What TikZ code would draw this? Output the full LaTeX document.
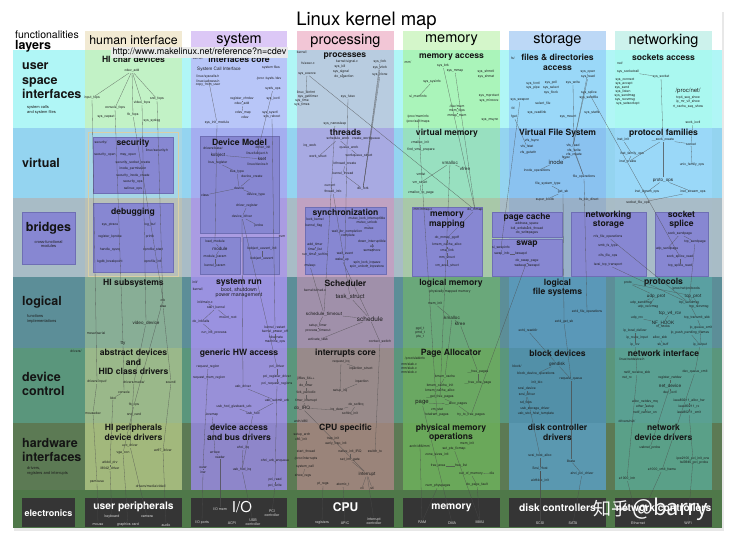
\documentclass[tikz,border=0pt]{standalone}
\usepackage{fontspec}
\setmainfont{TeX Gyre Heros}
\newfontfamily\cjk{Noto Sans CJK SC}
\definecolor{rowU}{HTML}{B0F6F6}
\definecolor{rowV}{HTML}{94D4F0}
\definecolor{rowB}{HTML}{A8BCC6}
\definecolor{rowL}{HTML}{5C8E98}
\definecolor{rowD}{HTML}{5A967C}
\definecolor{rowH}{HTML}{5C7A54}
\definecolor{rowE}{HTML}{4F7849}
\definecolor{hiU}{HTML}{C2F2C6}\definecolor{hiV}{HTML}{A6D6E6}\definecolor{hiB}{HTML}{B8C0B8}
\definecolor{hiL}{HTML}{88AE96}\definecolor{hiD}{HTML}{9AB88A}\definecolor{hiH}{HTML}{A2B87C}
\definecolor{syU}{HTML}{B8C6F8}\definecolor{syV}{HTML}{A4AEF0}\definecolor{syB}{HTML}{AA9CE2}
\definecolor{syL}{HTML}{9A92E0}\definecolor{syD}{HTML}{9890D8}\definecolor{syH}{HTML}{8E86CA}
\definecolor{prU}{HTML}{B8CCE0}\definecolor{prV}{HTML}{A8AAE2}\definecolor{prB}{HTML}{C0A2C2}
\definecolor{prL}{HTML}{A090AA}\definecolor{prD}{HTML}{988A8A}\definecolor{prH}{HTML}{9A847A}
\definecolor{meU}{HTML}{AAF4BA}\definecolor{meV}{HTML}{98E0C0}\definecolor{meB}{HTML}{A8C8A8}
\definecolor{meL}{HTML}{6AA87A}\definecolor{meD}{HTML}{6AA862}\definecolor{meH}{HTML}{6AA85A}
\definecolor{stU}{HTML}{9AD8F8}\definecolor{stV}{HTML}{8AC2F0}\definecolor{stB}{HTML}{98B0C8}
\definecolor{stL}{HTML}{5A98B8}\definecolor{stD}{HTML}{5290A8}\definecolor{stH}{HTML}{5A98B0}
\definecolor{neU}{HTML}{AAF8F0}\definecolor{neV}{HTML}{9AD8F8}\definecolor{neB}{HTML}{A8BCC8}
\definecolor{neL}{HTML}{5AA0A2}\definecolor{neD}{HTML}{5AA092}\definecolor{neH}{HTML}{5AA088}
\definecolor{hHI}{HTML}{F2EAD3}\definecolor{hSY}{HTML}{DCC8F6}\definecolor{hPR}{HTML}{F2C6D6}
\definecolor{hME}{HTML}{D4F6CA}\definecolor{hST}{HTML}{BCD8F6}\definecolor{hNE}{HTML}{CCF2EC}
\definecolor{iboxc}{HTML}{8787D2}\definecolor{iboxd}{HTML}{6E6EB4}
\definecolor{hiframe}{HTML}{D9CFA6}\definecolor{ebc}{HTML}{353535}
\definecolor{txt}{HTML}{1E1E1E}
\tikzset{
 t/.style={font=\fontsize{3.4}{3.8}\selectfont, text=txt, inner sep=0.3pt, align=center},
 tb/.style={font=\fontsize{4.6}{5}\selectfont, text=txt, inner sep=0.3pt, align=center},
 tc/.style={font=\fontsize{6}{6.5}\selectfont, text=txt, inner sep=0.3pt, align=center},
 sec/.style={font=\fontsize{8.6}{9.4}\selectfont\bfseries, text=black!92, inner sep=0, align=center},
 hd/.style={font=\fontsize{14.5}{15}\selectfont, inner sep=0},
 rl/.style={font=\fontsize{12.5}{14.5}\selectfont\bfseries, anchor=west, align=left, inner sep=0, text=black!92},
 rs/.style={font=\fontsize{4}{4.6}\selectfont, anchor=west, align=left, inner sep=0, text=txt},
 ln/.style={draw=black!70, line width=0.3pt, opacity=0.75},
 ibox/.style={fill=iboxc, draw=iboxd, line width=0.4pt},
 eh/.style={font=\fontsize{10.3}{11}\selectfont\bfseries, text=white, inner sep=0},
 et/.style={font=\fontsize{3.6}{4}\selectfont, text=white!85!black, inner sep=0.3pt, align=center},
}
\newcommand\mylbl[5][t]{\node[#1] (#2) at (#3,#4) {#5};}
\begin{document}
\begin{tikzpicture}[x=1pt,y=-1pt]
\useasboundingbox (0,0) rectangle (733,539);
\fill[white] (0,0) rectangle (733,539);
\fill[black!9] (14,12) rectangle (724,531);
\fill[white] (12,10) rectangle (722,528);
% rows
\fill[rowU] (13,50) rectangle (722,128);
\fill[rowV] (13,128) rectangle (722,198);
\fill[rowB] (13,198) rectangle (722,277);
\fill[rowL] (13,277) rectangle (722,348);
\fill[rowD] (13,348) rectangle (722,423);
\fill[rowH] (13,423) rectangle (722,490);
\fill[rowE] (13,490) rectangle (722,528);
% header boxes
\fill[hHI] (85,31) rectangle (182,50);
\fill[hSY] (191,31) rectangle (287,50);
\fill[hPR] (297,31) rectangle (394,50);
\fill[hME] (403,31) rectangle (500,50);
\fill[hST] (509,31) rectangle (606,50);
\fill[hNE] (615,31) rectangle (712,50);
% column cells
\fill[hiU] (85,50) rectangle (182,128);\fill[hiV] (85,128) rectangle (182,198);\fill[hiB] (85,198) rectangle (182,277);
\fill[hiL] (85,277) rectangle (182,348);\fill[hiD] (85,348) rectangle (182,423);\fill[hiH] (85,423) rectangle (182,490);
\fill[syU] (191,50) rectangle (287,128);\fill[syV] (191,128) rectangle (287,198);\fill[syB] (191,198) rectangle (287,277);
\fill[syL] (191,277) rectangle (287,348);\fill[syD] (191,348) rectangle (287,423);\fill[syH] (191,423) rectangle (287,490);
\fill[prU] (297,50) rectangle (394,128);\fill[prV] (297,128) rectangle (394,198);\fill[prB] (297,198) rectangle (394,277);
\fill[prL] (297,277) rectangle (394,348);\fill[prD] (297,348) rectangle (394,423);\fill[prH] (297,423) rectangle (394,490);
\fill[meU] (403,50) rectangle (500,128);\fill[meV] (403,128) rectangle (500,198);\fill[meB] (403,198) rectangle (500,277);
\fill[meL] (403,277) rectangle (500,348);\fill[meD] (403,348) rectangle (500,423);\fill[meH] (403,423) rectangle (500,490);
\fill[stU] (509,50) rectangle (606,128);\fill[stV] (509,128) rectangle (606,198);\fill[stB] (509,198) rectangle (606,277);
\fill[stL] (509,277) rectangle (606,348);\fill[stD] (509,348) rectangle (606,423);\fill[stH] (509,423) rectangle (606,490);
\fill[neU] (615,50) rectangle (712,128);\fill[neV] (615,128) rectangle (712,198);\fill[neB] (615,198) rectangle (712,277);
\fill[neL] (615,277) rectangle (712,348);\fill[neD] (615,348) rectangle (712,423);\fill[neH] (615,423) rectangle (712,490);
% HI frame and inner boxes
\draw[hiframe, line width=0.9pt] (88,132) rectangle (178,276);
\draw[ibox] (93,137) rectangle (173,193);
\draw[ibox] (93,203) rectangle (173,272);
\draw[ibox] (22,212) rectangle (75,264);
\draw[ibox] (200,136) rectangle (279,233);
\draw[ibox] (200,237) rectangle (240,274);
\draw[ibox] (243,237) rectangle (279,274);
\draw[ibox] (305,207) rectangle (386,274);
\draw[ibox] (412,207) rectangle (482,276);
\draw[ibox] (492,212) rectangle (562,237);
\draw[ibox] (492,239) rectangle (562,276);
\draw[ibox] (571,212) rectangle (646,276);
\draw[ibox] (655,212) rectangle (708,276);
% electronics boxes
\fill[ebc] (22,498) rectangle (75,527);
\fill[ebc] (85,498) rectangle (182,527);
\fill[ebc] (191,498) rectangle (287,527);
\fill[ebc] (297,498) rectangle (394,527);
\fill[ebc] (403,498) rectangle (500,527);
\fill[ebc] (509,498) rectangle (606,527);
\fill[ebc] (615,498) rectangle (712,527);

% title and headers
\node[font=\fontsize{18.5}{18.5}\selectfont, inner sep=0] (title) at (366.5,20.5) {Linux kernel map};
\node[font=\fontsize{10.5}{11}\selectfont, anchor=west, inner sep=0] (func) at (15,35) {functionalities};
\node[font=\fontsize{12.5}{13}\selectfont\bfseries, anchor=west, inner sep=0] (layers) at (15,46.5) {layers};
\node[hd, font=\fontsize{12.3}{13}\selectfont] (hHIt) at (133.5,40.5) {human interface};
\node[hd] (hSYt) at (239,40.5) {system};
\node[hd] (hPRt) at (345.5,40.5) {processing};
\node[hd] (hMEt) at (451.5,40.5) {memory};
\node[hd] (hSTt) at (557.5,40.5) {storage};
\node[hd] (hNEt) at (663.5,40.5) {networking};

% row labels
\node[rl] (rU) at (22,81) {user\\space\\interfaces};
\node[rs] (rUs) at (27,110) {system calls\\and system files};
\node[rl] (rV) at (22,163) {virtual};
\node[rl, anchor=center] (rB) at (48.5,228) {bridges};
\node[rs, anchor=center, align=center] (rBs) at (48.5,244) {cross-functional\\modules};
\node[rl] (rL) at (22,302) {logical};
\node[rs] (rLs) at (27,319) {functions\\implementations};
\node[rl] (rD) at (22,384) {device\\control};
\node[rl] (rH) at (22,450) {hardware\\interfaces};
\node[rs] (rHs) at (27,471) {drivers,\\registers and interrupts};
\node[eh, font=\fontsize{9}{10}\selectfont\bfseries] (rE) at (48.5,513) {electronics};

% section titles
\node[sec] (sHIc) at (133.5,59) {HI char devices};
\node[sec] (sSYi) at (239,59) {interfaces core};
\node[sec] (sPRp) at (345,56.5) {processes};
\node[sec] (sMEa) at (451.5,57.5) {memory access};
\node[sec] (sSTf) at (557.5,62.5) {files \& directories\\access};
\node[sec] (sNEs) at (663.5,57.5) {sockets access};
\node[sec] (sSec) at (133,143) {security};
\node[sec] (sDM) at (239.5,142.5) {Device Model};
\node[sec] (sThr) at (345.5,132.5) {threads};
\node[sec] (sVM) at (447,133) {virtual memory};
\node[sec] (sVFS) at (557.5,133) {Virtual File System};
\node[sec] (sPF) at (663.5,133) {protocol families};
\node[sec] (sDbg) at (133,212) {debugging};
\node[sec] (sSyn) at (345.5,213) {synchronization};
\node[sec] (sMM) at (447,220) {memory\\mapping};
\node[sec] (sPC) at (527,217) {page cache};
\node[sec] (sSw) at (527,244) {swap};
\node[sec] (sNS) at (608.5,220) {networking\\storage};
\node[sec] (sSS) at (681.5,220) {socket\\splice};
\node[sec] (sHIs) at (133.5,283) {HI subsystems};
\node[sec] (sSR) at (239,283) {system run};
\node[tb, font=\fontsize{5.3}{5.6}\selectfont] (sSRs) at (239,292.5) {boot, shutdown\\power management};
\node[sec] (sSch) at (345.5,283) {Scheduler};
\node[sec] (sLM) at (451,283) {logical memory};
\node[sec] (sLFS) at (557.5,287.5) {logical\\file systems};
\node[sec] (sProt) at (663.5,282) {protocols};
\node[sec] (sAD) at (133.5,362) {abstract devices\\and\\HID class drivers};
\node[sec] (sGHW) at (239,353) {generic HW access};
\node[sec] (sIC) at (345.5,353) {interrupts core};
\node[sec] (sPA) at (451,353) {Page Allocator};
\node[sec] (sBD) at (557.5,353) {block devices};
\node[sec] (sNI) at (663.5,353) {network interface};
\node[sec] (sHIp) at (133.5,432.5) {HI peripherals\\device drivers};
\node[sec] (sDA) at (239,432.5) {device access\\and bus drivers};
\node[sec] (sCPU) at (345.5,428.5) {CPU specific};
\node[sec] (sPMO) at (451,432.5) {physical memory\\operations};
\node[sec] (sDCD) at (557.5,432.5) {disk controller\\drivers};
\node[sec] (sNDD) at (663.5,432.5) {network\\device drivers};

% electronics texts
\node[eh] (eUP) at (133.5,507) {user peripherals};
\node[eh, font=\fontsize{15}{15}\selectfont] (eIO) at (242,507) {I/O};
\node[eh, font=\fontsize{12}{12}\selectfont\bfseries] (eCPU) at (345.5,507) {CPU};
\node[eh] (eMem) at (451.5,508) {memory};
\node[eh] (eDisk) at (557.5,508) {disk controllers};
\node[eh] (eNet) at (663.5,508) {network controllers};
\node[et] (keyboard) at (112,517) {keyboard};
\node[et] (camera) at (147,517) {camera};
\node[et] (mouse) at (98,525) {mouse};
\node[et] (graphics) at (128,525) {graphics card};
\node[et] (audio) at (166,525) {audio};
\node[et] (iomem) at (220,509) {I/O mem};
\node[et] (pcic) at (272,513) {PCI\\controller};
\node[et] (ioports) at (202,523) {I/O ports};
\node[et] (acpi) at (232,523) {ACPI};
\node[et] (usbc) at (253,522) {USB\\controller};
\node[et] (registers) at (322,523) {registers};
\node[et] (apic) at (345,523) {APIC};
\node[et] (intc) at (374,521) {interrupt\\controller};
\node[et] (ram) at (422,522) {RAM};
\node[et] (dma) at (452,523) {DMA};
\node[et] (mmu) at (480,522) {MMU};
\node[et] (scsi) at (540,523) {SCSI};
\node[et] (sata) at (573,523) {SATA};
\node[et] (ether) at (638,523) {Ethernet};
\node[et] (wifi) at (688,523) {WiFi};

% ---------- user space row ----------
\mylbl{cdevadd}{132}{71}{cdev\_add}
\mylbl{inputfops}{92}{98}{input\_fops}
\mylbl{consolefops}{115}{108}{console\_fops}
\mylbl{videofops}{142}{103}{video\_fops}
\mylbl{sndfops}{157}{99}{snd\_fops}
\mylbl{syscapset}{106}{117}{sys\_capset}
\mylbl{fbfops}{133}{115}{fb\_fops}
\mylbl{syssyslog}{152}{121}{sys\_syslog}
\mylbl{kernelS}{198}{58}{kernel/}
\mylbl[tb]{sci}{219}{69}{System Call Interface}
\mylbl{sysfiles}{271}{68}{system files}
\mylbl{syscallsh}{208}{77}{linux/syscalls.h}
\mylbl{uaccessh}{208}{81}{linux/uaccess.h}
\mylbl{procsys}{269}{79}{/proc /sysfs /dev}
\mylbl{copyfromuser}{208}{85}{copy\_from\_user}
\mylbl{sysfsops}{273}{89}{sysfs\_ops}
\mylbl{regchrdev}{242}{99}{register\_chrdev}
\mylbl{sysioctl}{273}{99}{sys\_ioctl}
\mylbl{cdevaddB}{242}{104}{cdev\_add}
\mylbl{cdevmap}{243}{113}{cdev\_map}
\mylbl{sysctl}{270}{113}{sys\_sysctl}
\mylbl{cdev}{245}{117}{cdev}
\mylbl{sysreboot}{272}{117}{sys\_reboot}
\mylbl{sysinitmodule}{217}{123}{sys\_init\_module}
\mylbl{kernelP}{302}{52}{kernel/}
\mylbl{fsexec}{308}{63}{fs/exec.c}
\mylbl{signalc}{347}{62}{kernel/signal.c}
\mylbl{sysfork}{380}{62}{sys\_fork}
\mylbl{syskill}{340}{67}{sys\_kill}
\mylbl{sysvfork}{380}{68}{sys\_vfork}
\mylbl{sysexecve}{307}{74}{sys\_execve}
\mylbl{syssignal}{341}{72}{sys\_signal}
\mylbl{sysclone}{380}{75}{sys\_clone}
\mylbl{dosigaction}{344}{77}{do\_sigaction}
\mylbl{binfmt}{306}{93}{linux\_binfmt}
\mylbl{getitimer}{308}{97}{sys\_getitimer}
\mylbl{systime}{302}{101}{sys\_time}
\mylbl{systimes}{302}{105}{sys\_times}
\mylbl{sysfutex}{348}{97}{sys\_futex}
\mylbl{nanosleep}{335}{124}{sys\_nanosleep}
\mylbl{mmdir}{408}{62}{mm/}
\mylbl{sysbrk}{443}{66}{sys\_brk}
\mylbl{sysmmap}{455}{71}{sys\_mmap}
\mylbl{shmctl}{486}{72}{sys\_shmctl}
\mylbl{shmat}{486}{77}{sys\_shmat}
\mylbl{syssysinfo}{432}{82}{sys\_sysinfo}
\mylbl{simeminfo}{418}{97}{si\_meminfo}
\mylbl{mprotect}{489}{96}{sys\_mprotect}
\mylbl{mincore}{489}{101}{sys\_mincore}
\mylbl{devmem}{457}{106}{/dev/mem}
\mylbl{memfops}{457}{111}{mem\_fops}
\mylbl{mmapmem}{457}{116}{mmap\_mem}
\mylbl{msync}{490}{120}{sys\_msync}
\mylbl{procmeminfo}{418}{117}{/proc/meminfo}
\mylbl{procmaps}{418}{122}{/proc/self/maps}
\mylbl{fsdir}{513}{58}{fs/}
\mylbl{sysopen}{588}{72}{sys\_open}
\mylbl{sysread}{588}{77}{sys\_read}
\mylbl{sysfcntl}{533}{84}{sys\_fcntl}
\mylbl{syspoll}{551}{83}{sys\_poll}
\mylbl{syswrite}{573}{83}{sys\_write}
\mylbl{syspipe}{533}{88}{sys\_pipe}
\mylbl{sysselect}{551}{88}{sys\_select}
\mylbl{sysflock}{551}{93}{sys\_flock}
\mylbl{syssplice}{589}{93}{sys\_splice}
\mylbl{syssendfile}{589}{98}{sys\_sendfile}
\mylbl{sysswapon}{520}{100}{sys\_swapon}
\mylbl{selectfile}{543}{104}{select\_file}
\mylbl{fd}{513}{108}{fd}
\mylbl{fget}{514}{117}{fget}
\mylbl{sysreadlink}{537}{113}{sys\_readlink}
\mylbl{sysmount}{568}{117}{sys\_mount}
\mylbl{sysstatfs}{592}{113}{sys\_statfs}
\mylbl{netdir}{620}{63}{net/}
\mylbl{socketcall}{628}{72}{sys\_socketcall}
\mylbl{syssocket}{661}{77}{sys\_socket}
\mylbl{sconnect}{625}{80}{sys\_connect}
\mylbl{saccept}{624}{84}{sys\_accept}
\mylbl{ssend}{622}{88}{sys\_send}
\mylbl{slisten}{623}{92}{sys\_listen}
\mylbl{ssendmsg}{625}{96}{sys\_sendmsg}
\mylbl{srecvmsg}{625}{100}{sys\_recvmsg}
\mylbl{ssetsock}{628}{104}{sys\_setsockopt}
\mylbl[tc]{procnet}{688}{91}{/proc/net/}
\mylbl{tcp4seq}{688}{98}{tcp4\_seq\_show}
\mylbl{ipmr}{688}{102}{ip\_mr\_vif\_show}
\mylbl{rtcache}{688}{107}{rt\_cache\_seq\_show}
\mylbl{sockioctl}{693}{123}{sock\_ioctl}

% ---------- virtual row ----------
\mylbl{secdir}{101}{143}{security/}
\mylbl{securityh}{157}{151}{linux/security.h}
\mylbl{secopen}{105}{155}{security\_open}
\mylbl{mayopen}{128}{155}{may\_open}
\mylbl{secsock}{133}{163}{security\_socket\_create}
\mylbl{inodeperm}{133}{169}{inode\_permission}
\mylbl{secinode}{133}{176}{security\_inode\_create}
\mylbl{secops}{133}{182}{security\_ops}
\mylbl{selinux}{133}{189}{selinux\_ops}
\mylbl{drvbase}{213}{148}{drivers/base/}
\mylbl{drvinit}{263}{148}{driver\_init}
\mylbl[tb]{kobject}{218}{155}{kobject}
\mylbl{kobjecth}{257}{154}{linux/kobject.h}
\mylbl{busregister}{218}{163}{bus\_register}
\mylbl[tb]{kset}{262}{159}{kset}
\mylbl{deviceh}{258}{164}{linux/device.h}
\mylbl{bustype}{237}{172}{bus\_type}
\mylbl{devcreate}{252}{177}{device\_create}
\mylbl{device}{239}{188}{device}
\mylbl{class}{205}{195}{class}
\mylbl{devtype}{256}{195}{device\_type}
\mylbl{drvregister}{247}{206}{driver\_register}
\mylbl{devdriver}{242}{217}{device\_driver}
\mylbl{probe}{259}{226}{probe}
\mylbl{kvm}{282}{236}{kvm}
\mylbl{loadmodule}{215}{242}{load\_module}
\mylbl[tb]{module}{220}{249}{module}
\mylbl{moduleparam}{215}{257}{module\_param}
\mylbl{kernelparam}{215}{266}{kernel\_param}
\mylbl{ueventinit}{262}{249}{kobject\_uevent\_init}
\mylbl{uevent}{262}{259}{kobject\_uevent}
\mylbl{schedwork}{338}{139}{schedule\_work}
\mylbl{createwq}{366}{139}{create\_workqueue}
\mylbl{irqaff}{310}{146}{irq\_work}
\mylbl{queuework}{349}{148}{queue\_work}
\mylbl{workstruct}{318}{157}{work\_struct}
\mylbl{wqstruct}{359}{156}{workqueue\_struct}
\mylbl{kthreadcreate}{345}{164}{kthread\_create}
\mylbl{kernelthread}{343}{174}{kernel\_thread}
\mylbl{current}{330}{185}{current}
\mylbl{threadinfo}{333}{192}{thread\_info}
\mylbl{dofork}{363}{189}{do\_fork}
\mylbl{vmallocinit}{420}{143}{vmalloc\_init}
\mylbl{findvma}{421}{150}{find\_vma\_prepare}
\mylbl[tb]{vmalloc}{450}{163}{vmalloc}
\mylbl[tb]{vfree}{465}{169}{vfree}
\mylbl{vmlist}{421}{174}{vmlist}
\mylbl{vmstruct}{420}{183}{vm\_struct}
\mylbl{vmtopage}{421}{193}{vmalloc\_to\_page}
\mylbl{vfsfsync}{532}{141}{vfs\_fsync}
\mylbl{vfsfstat}{527}{147}{vfs\_fstat}
\mylbl{vfsgetattr}{528}{153}{vfs\_getattr}
\mylbl{vfsread}{573}{146}{vfs\_read}
\mylbl{vfswrite}{574}{151}{vfs\_write}
\mylbl{vfscreate}{574}{155}{vfs\_create}
\mylbl{fsync}{566}{158}{fsync}
\mylbl[tc]{inode}{556}{162}{inode}
\mylbl{inodeops}{537}{171}{inode\_operations}
\mylbl{fileops}{584}{177}{file\_operations}
\mylbl{fstype}{548}{184}{file\_system\_type}
\mylbl{getsb}{563}{192}{get\_sb}
\mylbl{superblock}{545}{200}{super\_block}
\mylbl{fsbsdirect}{589}{200}{fs\_bio\_direct}
\mylbl{inetinit}{623}{140}{inet\_init}
\mylbl{sockcreate}{663}{140}{\_\_sock\_create}
\mylbl{socket}{691}{144}{socket}
\mylbl{inetfam}{632}{154}{inet\_family\_ops}
\mylbl{inetcreate}{628}{162}{inet\_create}
\mylbl{unixfam}{692}{165}{unix\_family\_ops}
\mylbl[tb]{protoops}{663}{180}{proto\_ops}
\mylbl{inetdgram}{647}{192}{inet\_dgram\_ops}
\mylbl{inetstream}{693}{192}{inet\_stream\_ops}

% ---------- bridges row ----------
\mylbl{sysptrace}{110}{225}{sys\_ptrace}
\mylbl{logbuf}{150}{225}{log\_buf}
\mylbl{regkprobe}{110}{237}{register\_kprobe}
\mylbl{printk}{150}{237}{printk}
\mylbl{sysrq}{110}{250}{handle\_sysrq}
\mylbl{opstart}{153}{250}{oprofile\_start}
\mylbl{kgdb}{110}{262}{kgdb\_breakpoint}
\mylbl{opinit}{153}{262}{oprofile\_init}
\mylbl{lockkernel}{315}{220}{lock\_kernel}
\mylbl{kernelflag}{314}{226}{kernel\_flag}
\mylbl{mutexlock}{367}{219}{mutex\_lock\_interruptible}
\mylbl{mutexunlock}{367}{223}{mutex\_unlock}
\mylbl{mutex}{369}{228}{mutex}
\mylbl{waitcompl}{347}{232}{wait\_for\_completion}
\mylbl{complete}{348}{236}{complete}
\mylbl{addtimer}{315}{245}{add\_timer}
\mylbl{timerlist}{315}{250}{timer\_list}
\mylbl{runtimer}{315}{255}{run\_timer\_softirq}
\mylbl{downint}{372}{242}{down\_interruptible}
\mylbl{up}{372}{247}{up}
\mylbl{semaphore}{372}{251}{semaphore}
\mylbl{waitevent}{345}{254}{wait\_event}
\mylbl{wakeup}{342}{260}{wake\_up}
\mylbl{msleep}{310}{266}{msleep}
\mylbl{spinlock}{367}{263}{spin\_lock\_irqsave}
\mylbl{spinunlock}{367}{267}{spin\_unlock\_irqrestore}
\mylbl{mmapc}{423}{210}{mm/mmap.c}
\mylbl{domap}{475}{210}{do\_mmap}
\mylbl{mmappgoff}{447}{238}{do\_mmap\_pgoff}
\mylbl{kmemalloc}{447}{245}{kmem\_cache\_alloc}
\mylbl{vmalink}{447}{251}{vma\_link}
\mylbl{mmstruct}{447}{258}{mm\_struct}
\mylbl{vmarea}{447}{266}{vm\_area\_struct}
\mylbl{addrspace}{527}{224}{address\_space}
\mylbl{bdiwb}{527}{229}{bdi\_writeback\_thread}
\mylbl{dowritepages}{527}{233}{do\_writepages}
\mylbl{siswapinfo}{501}{248}{si\_swapinfo}
\mylbl{swapinfo}{502}{254}{swap\_info}
\mylbl{kswapd}{521}{254}{kswapd}
\mylbl{doswappage}{527}{261}{do\_swap\_page}
\mylbl{wakekswapd}{527}{266}{wakeup\_kswapd}
\mylbl{nfsfile}{608}{237}{nfs\_file\_operations}
\mylbl{smbfs}{608}{246}{smb\_fs\_type}
\mylbl{cifsfile}{608}{256}{cifs\_file\_ops}
\mylbl{iscsi}{608}{265}{iscsi\_tcp\_transport}
\mylbl{socketfileops}{638}{203}{socket\_file\_ops}
\mylbl{socksendpage}{680}{234}{sock\_sendpage}
\mylbl{tcpsendpage}{695}{242}{tcp\_sendpage}
\mylbl{udpsendpage}{667}{249}{udp\_sendpage}
\mylbl{socksplice}{680}{257}{sock\_splice\_read}
\mylbl{tcpsplice}{680}{266}{tcp\_splice\_read}

% ---------- logical row ----------
\mylbl{cfb}{163}{300}{cfb}
\mylbl{alsa}{163}{306}{alsa}
\mylbl[tb]{videodevice}{146}{323}{video\_device}
\mylbl{moxa}{96}{333}{mxser/serial}
\mylbl[tb]{tty}{123}{343}{tty}
\mylbl{initdir}{195}{282}{init/}
\mylbl{kernelR}{198}{289}{kernel/}
\mylbl{mainc}{205}{302}{init/main.c}
\mylbl{startkernel}{216}{308}{start\_kernel}
\mylbl{mountroot}{228}{318}{mount\_root}
\mylbl{doinitcalls}{201}{322}{do\_initcalls}
\mylbl{runinit}{214}{333}{run\_init\_process}
\mylbl{krestart}{275}{328}{kernel\_restart}
\mylbl{kpoweroff}{275}{332}{kernel\_power\_off}
\mylbl{hibernate}{276}{337}{hibernate}
\mylbl{machineops}{275}{342}{machine\_ops}
\mylbl{schedc}{315}{290}{kernel/sched.c}
\mylbl[tc]{taskstruct}{350}{297}{task\_struct}
\mylbl[tb]{schedtimeout}{324}{314}{schedule\_timeout}
\mylbl[font=\fontsize{6.5}{7}\selectfont, text=txt, inner sep=0.3pt]{schedule}{370}{319}{schedule}
\mylbl{setuptimer}{318}{326}{setup\_timer}
\mylbl{proctimeout}{318}{331}{process\_timeout}
\mylbl{activatetask}{318}{340}{activate\_task}
\mylbl{ctxswitch}{380}{342}{context\_switch}
\mylbl{physmapped}{450}{292}{physically mapped memory}
\mylbl{meminit}{435}{304}{mem\_init}
\mylbl[tb]{kmalloc}{452}{318}{kmalloc}
\mylbl[tb]{kfree}{460}{324}{kfree}
\mylbl{pgdt}{420}{329}{pgd\_t}
\mylbl{pmdt}{420}{333}{pmd\_t}
\mylbl{ptet}{420}{337}{pte\_t}
\mylbl{ext4fops}{587}{312}{ext4\_file\_operations}
\mylbl{ext4getsb}{564}{322}{ext4\_get\_sb}
\mylbl{ext4readdir}{528}{331}{ext4\_readdir}
\mylbl{proto}{628}{283}{proto}
\mylbl{procprot}{686}{289}{/proc/net/protocols}
\mylbl[tb]{udpprot}{656}{296}{udp\_prot}
\mylbl[tb]{tcpprot}{693}{296}{tcp\_prot}
\mylbl{udpsendmsg}{641}{303}{udp\_sendmsg}
\mylbl{udprecvmsg}{648}{307}{udp\_recvmsg}
\mylbl{tcpsendmsg}{689}{303}{tcp\_sendmsg}
\mylbl{tcprecvmsg}{699}{307}{tcp\_recvmsg}
\mylbl[tb]{tcpv4rcv}{670}{313}{tcp\_v4\_rcv}
\mylbl{udprcv}{637}{318}{udp\_rcv}
\mylbl{tcptransmit}{697}{318}{tcp\_transmit\_skb}
\mylbl[tb]{nfhook}{663}{323}{NF\_HOOK}
\mylbl{nfhooks}{663}{327}{nf\_hooks}
\mylbl{ipqueue}{701}{328}{ip\_queue\_xmit}
\mylbl{iplocal}{635}{331}{ip\_local\_deliver}
\mylbl{ippush}{690}{333}{ip\_push\_pending\_frames}
\mylbl{iproute}{637}{338}{ip\_route\_input}
\mylbl{allocskb}{660}{338}{alloc\_skb}
\mylbl{iprcv}{635}{345}{ip\_rcv}
\mylbl{skbuff}{663}{345}{sk\_buff}
\mylbl{ipoutput}{700}{345}{ip\_output}

% ---------- device control row ----------
\mylbl{drivers}{76}{351}{drivers/}
\mylbl{drvinput}{97}{382}{drivers/input/}
\mylbl{drvmedia}{134}{382}{drivers/media/}
\mylbl{sound}{171}{382}{sound/}
\mylbl{consoleD}{124}{392}{console}
\mylbl{kbd}{113}{398}{kbd}
\mylbl{fbops}{134}{405}{fb\_ops}
\mylbl{mousedev}{93}{413}{mousedev}
\mylbl{smichar}{134}{415}{snd\_card}
\mylbl{reqregion}{208}{367}{request\_region}
\mylbl{pcidriver}{277}{367}{pci\_driver}
\mylbl{reqmemregion}{209}{378}{request\_mem\_region}
\mylbl{pciregister}{277}{377}{pci\_register\_driver}
\mylbl{pcirequest}{277}{384}{pci\_request\_regions}
\mylbl{usbdriver}{243}{387}{usb\_driver}
\mylbl{usbsubmit}{277}{401}{usb\_submit\_urb}
\mylbl{usbgiveback}{234}{407}{usb\_hcd\_giveback\_urb}
\mylbl{usbhcd}{253}{414}{usb\_hcd}
\mylbl{ioremap}{212}{415}{ioremap}
\mylbl{requestirq}{341}{362}{request\_irq}
\mylbl{irqactstruct}{361}{369}{irqaction\_struct}
\mylbl{jiffies}{306}{379}{jiffies\_64++}
\mylbl{dotimer}{306}{386}{do\_timer}
\mylbl{irqaction}{362}{382}{irqaction}
\mylbl{setupirq}{340}{391}{setup\_irq}
\mylbl{tickperiodic}{306}{393}{tick\_periodic}
\mylbl{timerint}{306}{401}{timer\_interrupt}
\mylbl[tb]{doirq}{302}{408}{do\_IRQ}
\mylbl{irqdesc}{337}{410}{irq\_desc}
\mylbl{dosoftirq}{356}{405}{do\_softirq}
\mylbl{softirqinit}{350}{414}{softirq\_init}
\mylbl{slabinfo}{415}{359}{/proc/slabinfo}
\mylbl{mmslab}{409}{364}{mm/slab.c}
\mylbl{mmslub}{409}{368}{mm/slub.c}
\mylbl{mmslob}{409}{372}{mm/slob.c}
\mylbl{kmemcache}{445}{377}{kmem\_cache}
\mylbl{freepages}{478}{372}{\_\_free\_pages}
\mylbl{freeonepage}{478}{383}{\_\_free\_one\_page}
\mylbl{kmeminit}{440}{386}{kmem\_cache\_init}
\mylbl{kmemalloc2}{440}{391}{kmem\_cache\_alloc}
\mylbl{getfree}{440}{397}{\_\_get\_free\_pages}
\mylbl[tc]{page}{422}{403}{page}
\mylbl{allocpages}{456}{404}{\_\_alloc\_pages}
\mylbl{vmstat}{437}{410}{vm\_stat}
\mylbl{totalram}{437}{415}{totalram\_pages}
\mylbl{tryfree}{471}{415}{try\_to\_free\_pages}
\mylbl{blockdir}{517}{366}{block/}
\mylbl[tb]{gendisk}{557}{364}{gendisk}
\mylbl{blockops}{536}{374}{block\_device\_operations}
\mylbl{requestq}{571}{379}{request\_queue}
\mylbl{initbio}{537}{383}{init\_bio}
\mylbl{scsidevice}{527}{389}{scsi\_device}
\mylbl{scsidriver}{527}{395}{scsi\_driver}
\mylbl{sdfops}{526}{403}{sd\_fops}
\mylbl{usbstor}{535}{409}{usb\_storage\_driver}
\mylbl{usbstortmpl}{536}{414}{usb\_stor\_host\_template}
\mylbl{netdevh}{632}{359}{linux/netdevice.h}
\mylbl{devqueuexmit}{695}{372}{dev\_queue\_xmit}
\mylbl{netifrx}{637}{373}{netif\_receive\_skb}
\mylbl{netrx}{627}{378}{net\_rx}
\mylbl{regnetdev}{670}{378}{register\_netdev}
\mylbl[tb]{netdevice}{670}{386}{net\_device}
\mylbl{devioctl}{670}{393}{dev\_ioctl}
\mylbl{allocnetdev}{645}{402}{alloc\_netdev\_mq}
\mylbl{ethersetup}{645}{407}{ether\_setup}
\mylbl{carrieron}{645}{413}{netif\_carrier\_on}
\mylbl{ieeealloc}{689}{401}{ieee80211\_alloc\_hw}
\mylbl{ieeerx}{689}{407}{ieee80211\_rx}
\mylbl{ieeexmit}{689}{413}{ieee80211\_xmit}
\mylbl{drvnet}{627}{421}{drivers/net/}

% ---------- hardware interfaces row ----------
\mylbl{uvcdriver}{130}{446}{uvc\_driver}
\mylbl{ac97}{163}{451}{ac97\_driver}
\mylbl{vgacon}{123}{453}{vga\_con}
\mylbl{atkbd}{110}{463}{atkbd\_drv}
\mylbl{i8042}{110}{469}{i8042\_driver}
\mylbl{psmouse}{97}{482}{psmouse}
\mylbl{drvmediavideo}{151}{486}{drivers/media/video/}
\mylbl{ehciirq}{243}{448}{ehci\_irq}
\mylbl{writew}{215}{452}{writew}
\mylbl{readw}{220}{457}{readw}
\mylbl{ohcienq}{275}{461}{ohci\_urb\_enqueue}
\mylbl{outw}{203}{467}{outw}
\mylbl{inw}{203}{472}{inw}
\mylbl{usbhcdirq}{242}{470}{usb\_hcd\_irq}
\mylbl{pciread}{275}{480}{pci\_read}
\mylbl{pciwrite}{275}{486}{pci\_write}
\mylbl{archx86}{301}{421}{arch/x86/}
\mylbl{setuparch}{302}{435}{setup\_arch}
\mylbl{x86init}{301}{440}{x86\_init}
\mylbl{trapinit}{333}{439}{trap\_init}
\mylbl{earlytrap}{336}{444}{early\_trap\_init}
\mylbl{startthread}{306}{452}{start\_thread}
\mylbl{nativeirq}{350}{452}{native\_init\_IRQ}
\mylbl{switchto}{375}{452}{switch\_to}
\mylbl{procints}{306}{459}{/proc/interrupts}
\mylbl{setintrgate}{350}{460}{set\_intr\_gate}
\mylbl{syscallE}{305}{467}{system\_call}
\mylbl{showregs}{303}{476}{show\_regs}
\mylbl[tb]{interrupt}{367}{474}{interrupt}
\mylbl{ptregs}{323}{484}{pt\_regs}
\mylbl{atomict}{343}{485}{atomic\_t}
\mylbl{cli}{362}{488}{cli}
\mylbl{sti}{372}{488}{sti}
\mylbl{archmm}{420}{446}{arch/x86/mm/}
\mylbl{memwrite}{467}{444}{mem\_init}
\mylbl{setpte}{454}{449}{set\_pte\_fixmap}
\mylbl{zonesizes}{437}{455}{zone\_sizes\_init}
\mylbl{freearea}{438}{466}{free\_area}
\mylbl{freelist}{461}{466}{free\_list}
\mylbl{oom}{471}{474}{out\_of\_memory}
\mylbl{die}{492}{473}{die}
\mylbl{numphys}{438}{486}{num\_physpages}
\mylbl{dopagefault}{477}{485}{do\_page\_fault}
\mylbl{scsihostalloc}{540}{456}{scsi\_host\_alloc}
\mylbl{libata}{571}{461}{libata}
\mylbl{scsihost}{540}{469}{Scsi\_Host}
\mylbl{ahcipci}{582}{474}{ahci\_pci\_driver}
\mylbl{aic94xx}{540}{481}{aic94xx\_init}
\mylbl{usbnetprobe}{650}{448}{usbnet\_probe}
\mylbl{ipw2100}{693}{459}{ipw2100\_pci\_init\_one}
\mylbl{iwl3945}{694}{463}{iwl3945\_pci\_probe}
\mylbl{e1000xmit}{662}{470}{e1000\_xmit\_frame}
\mylbl{e1000intr}{627}{479}{e1000\_intr}

% ---------- connectors ----------
\foreach \a/\b in {cdevadd/inputfops, cdevadd/consolefops, cdevadd/fbfops, cdevadd/videofops, cdevadd/sndfops,
 inputfops/drvinput, drvinput/mousedev, mousedev/psmouse, psmouse/mouse,
 consolefops/tty, tty/consoleD, consoleD/kbd, kbd/atkbd, atkbd/i8042, i8042/keyboard,
 fbfops/cfb, cfb/fbops, fbops/vgacon, vgacon/graphics,
 videofops/videodevice, videodevice/drvmedia, drvmedia/uvcdriver, uvcdriver/camera,
 sndfops/alsa, alsa/sound, sound/ac97, ac97/audio,
 regchrdev/cdevaddB, cdevaddB/cdevmap, cdevmap/cdev, syscallsh/sysinitmodule,
 sysinitmodule/loadmodule, loadmodule/module, module/moduleparam, moduleparam/kernelparam,
 sysreboot/krestart, sysfsops/kobjecth, kobject/kset, busregister/bustype, bustype/device,
 device/devcreate, device/class, device/devtype, drvregister/devdriver, devdriver/probe,
 devdriver/pcidriver, devdriver/usbdriver, ueventinit/uevent,
 mainc/startkernel, startkernel/mountroot, startkernel/doinitcalls, doinitcalls/runinit,
 krestart/kpoweroff, kpoweroff/machineops,
 pcidriver/pciregister, pciregister/pcirequest, pcirequest/pciread, pciread/pciwrite, pciwrite/pcic,
 usbdriver/usbsubmit, usbsubmit/usbhcd, usbhcd/usbhcdirq, usbhcdirq/usbc, usbgiveback/usbhcd,
 reqregion/outw, outw/inw, inw/ioports, ioremap/writew, writew/readw, readw/iomem, ehciirq/usbhcdirq,
 sysfork/dofork, sysclone/dofork, sysvfork/dofork, kthreadcreate/kernelthread, kernelthread/dofork,
 schedwork/workstruct, queuework/wqstruct, schedwork/queuework, current/threadinfo,
 sysexecve/binfmt, syssignal/dosigaction, sysfutex/waitevent, nanosleep/schedtimeout,
 threadinfo/taskstruct, waitevent/wakeup, wakeup/schedule, msleep/schedtimeout,
 taskstruct/schedule, schedtimeout/schedule, schedtimeout/setuptimer, setuptimer/proctimeout,
 schedule/ctxswitch, schedule/activatetask, ctxswitch/switchto, downint/up, up/semaphore,
 mutexunlock/mutex, waitcompl/complete, addtimer/timerlist, timerlist/runtimer, spinlock/spinunlock,
 requestirq/setupirq, requestirq/irqactstruct, setupirq/irqaction, jiffies/dotimer, dotimer/tickperiodic,
 tickperiodic/timerint, timerint/doirq, doirq/irqdesc, irqdesc/dosoftirq, dosoftirq/softirqinit,
 doirq/interrupt, interrupt/cli, interrupt/sti, nativeirq/setintrgate, setintrgate/interrupt,
 setuparch/x86init, trapinit/earlytrap, syscallE/showregs, interrupt/intc, ptregs/registers, atomict/apic,
 syssysinfo/simeminfo, sysbrk/domap, sysmmap/domap, devmem/memfops, memfops/mmapmem,
 domap/mmappgoff, mmappgoff/kmemalloc, kmemalloc/vmalink, vmalink/mmstruct, mmstruct/vmarea,
 vmalloc/vfree, vmalloc/vmstruct, vmallocinit/findvma, vmstruct/vmtopage, sysexecve/domap,
 kmalloc/kfree, kmalloc/kmemcache, meminit/kmalloc, kmemcache/kmeminit, kmeminit/kmemalloc2,
 getfree/allocpages, allocpages/page, freepages/freeonepage, allocpages/tryfree, kfree/freepages,
 procmeminfo/totalram, vmalloc/getfree, doswappage/tryfree,
 freearea/freelist, dopagefault/oom, oom/die, numphys/ram, dopagefault/mmu, setpte/mmu, archmm/ram, page/dma,
 sysopen/vfsread, sysread/vfsread, syswrite/vfswrite, vfsread/fileops, vfswrite/fileops, vfscreate/inode,
 inode/inodeops, fstype/getsb, getsb/superblock, fileops/ext4fops, getsb/ext4getsb, fget/vfsfstat,
 syssplice/socksplice, sysswapon/siswapinfo, siswapinfo/swapinfo, swapinfo/kswapd, doswappage/wakekswapd,
 addrspace/bdiwb, bdiwb/dowritepages, ext4readdir/gendisk, ext4getsb/requestq,
 gendisk/blockops, gendisk/requestq, scsidevice/scsidriver, scsidriver/sdfops, usbstor/usbstortmpl,
 requestq/libata, scsidriver/scsihostalloc, scsihostalloc/scsihost, scsihost/aic94xx, scsihost/scsi,
 libata/ahcipci, ahcipci/sata,
 socketcall/syssocket, syssocket/sockcreate, sockcreate/inetcreate, sockcreate/socket, inetinit/inetfam,
 inetfam/inetcreate, protoops/inetdgram, protoops/inetstream, sockcreate/protoops, socket/unixfam,
 sockioctl/socket, inetstream/socketfileops, socksendpage/tcpsendpage, socksendpage/udpsendpage,
 socksplice/tcpsplice, proto/udpprot, proto/tcpprot, tcpprot/tcpsendmsg, tcpprot/tcprecvmsg,
 udpprot/udpsendmsg, udpprot/udprecvmsg, tcpsendmsg/tcptransmit, tcpv4rcv/nfhook, udprcv/nfhook,
 nfhook/nfhooks, tcptransmit/ipqueue, ipqueue/ipoutput, iplocal/iprcv, ippush/ipoutput, allocskb/skbuff,
 ipoutput/devqueuexmit, iprcv/netifrx, devqueuexmit/e1000xmit, regnetdev/netdevice, netdevice/devioctl,
 allocnetdev/ethersetup, ethersetup/carrieron, ieeealloc/ieeerx, ieeerx/ieeexmit, ieeexmit/ipw2100,
 ipw2100/wifi, e1000intr/ether, e1000xmit/ether, usbnetprobe/netdevice, netifrx/e1000intr,
 tcpsendpage/tcpsendmsg, nfsfile/tcpsendmsg, iscsi/tcpsendmsg}
 {\draw[ln] (\a) -- (\b);}

% watermark
\node[text=white, inner sep=0, opacity=0.95] (wm) at (651,509)
 {\cjk\fontsize{18}{18}\selectfont 知乎\,\fontsize{22}{22}\selectfont @barry};

% tooltip
\node[fill=white!92!black, fill opacity=0.92, text opacity=1, inner xsep=1.5pt, inner ysep=1pt,
 font=\fontsize{9}{9.5}\selectfont, anchor=west] (tip) at (111,52.5) {http://www.makelinux.net/reference?n=cdev};
\end{tikzpicture}
\end{document}
